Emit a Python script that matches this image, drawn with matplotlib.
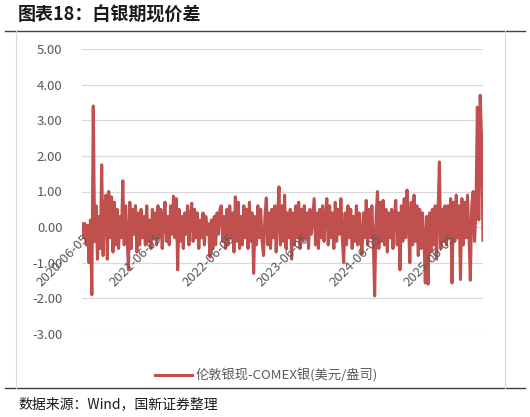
import numpy as np
import pandas as pd
import matplotlib
matplotlib.use('Agg')
import matplotlib.pyplot as plt
import matplotlib.dates as mdates
from matplotlib.lines import Line2D

plt.rcParams['font.family'] = ['Noto Sans CJK SC', 'DejaVu Sans']
plt.rcParams['axes.unicode_minus'] = False

# Spread (USD/oz) at roughly weekly steps
year1 = [0.1, -0.3, 0.1, -0.5, 0.05, -1.0, 0.2, -1.9, 3.4, -0.4,
         0.6, -0.9, 0.3, -0.6, 1.75, -0.8, 0.5, 0.9, -0.9, 1.0,
         -0.3, 0.85, -0.7, 0.7, -0.5, 0.5, -0.6, 0.3, -0.3, 1.3,
         -0.5, 0.6, -0.2, -1.2, 0.7, -0.6, 0.5, -0.2, 0.6, -0.7,
         0.4, -0.5, 0.5, -0.3, 0.3, -0.5, 0.6, -0.4, 0.2, -0.6,
         0.5, -0.3]
year2 = [0.4, -0.5, 0.6, -0.3, 0.5, -0.6, 0.2, 0.7, -0.4, 0.3,
         -0.5, 0.6, -0.2, 0.87, -0.3, 0.8, -1.2, 0.5, -0.4, 0.3,
         -0.6, 0.4, -0.2, 0.6, -0.5, 0.3, 0.67, -0.4, 0.5, -0.3,
         0.4, -0.6, 0.2, -0.3, 0.4, -0.5, 0.3, -0.2, 0.1, -0.84,
         0.2, -0.6, 0.3, -0.5, 0.4, -0.2, 0.5, 0.6, -0.4, 0.3,
         -0.6, 0.5]
year3 = [-0.5, 0.6, -0.3, 0.4, -0.7, 0.85, -0.4, 0.7, -0.6, 0.3,
         -0.5, 0.6, -0.3, 0.5, -0.6, 0.7, -0.4, 0.4, -1.3, 0.3,
         -0.5, 0.6, -0.3, 0.5, -0.4, -0.8, 0.3, 0.82, -0.5, 0.4,
         -0.6, 0.5, -0.3, 0.6, -0.7, 0.3, 1.13, -0.5, 0.6, -0.4,
         0.9, -0.6, 0.4, -0.3, 0.5, -0.9, 0.4, -0.5, 0.6, -0.3,
         0.7, -0.6]
year4 = [0.5, -0.4, 0.6, -0.3, 0.4, -0.6, 0.5, -0.2, 0.3, 0.8,
         -0.5, 0.4, -0.6, 0.5, -0.3, 0.6, -0.4, 0.3, 0.8, -0.5,
         0.6, -0.3, 0.4, -0.6, 0.7, -0.4, 0.5, -0.2, 0.8, -0.3,
         -1.0, 0.4, -0.5, 0.6, -0.3, 0.5, -0.6, 0.3, -0.4, 0.6,
         -0.5, 0.4, -0.3, -0.75, 0.4, -0.3, 0.75, -0.5, 0.5, -0.3,
         0.6, -0.4]
year5 = [-1.93, 0.3, 1.0, -0.6, 0.7, -0.4, 0.75, -0.5, 0.5, -0.7,
         0.4, -0.3, 0.5, -0.6, 0.3, 0.75, -0.5, 0.4, -1.2, 0.6,
         -0.4, 0.8, -0.3, 1.04, 0.2, -1.0, 0.7, -0.5, 0.9, -0.4,
         0.6, -0.8, 0.5, -0.6, 0.4, -0.3, -1.57, 0.3, -1.6, 0.4,
         -0.7, 0.5, -0.5, 0.6, -0.9, 0.3, 1.83, -0.6, 0.5, -0.4,
         0.6, -0.5]
year6 = [0.6, -0.3, 0.8, -1.57, 0.7, -0.4, 0.9, -0.3, 0.6, -1.47,
         0.8, -0.5, 0.7, -0.3, 0.9, -0.2, -1.49, 0.6, 1.0, -0.4,
         0.5, 3.37, 0.2, 3.7, 2.5, -0.37]

spread = year1 + year2 + year3 + year4 + year5 + year6
dates = pd.date_range('2020-06-05', periods=len(spread), freq='7D')

tick_dates = pd.to_datetime(['2020-06-05', '2021-06-05', '2022-06-05',
                             '2023-06-05', '2024-06-05', '2025-06-05'])
yticks = [-3, -2, -1, 0, 1, 2, 3, 4, 5]

RED = '#c0504d'
GRAY = '#595959'

fig = plt.figure(figsize=(5.3, 4.17), dpi=100)

# frame lines around the chart block
fig.add_artist(Line2D([0.01, 0.99], [1 - 31/417, 1 - 31/417], color='#404040', lw=1.0))
fig.add_artist(Line2D([0.01, 0.99], [1 - 388/417, 1 - 388/417], color='#404040', lw=1.0))
fig.add_artist(Line2D([16/530, 16/530], [1 - 388/417, 1 - 31/417], color='#d9d9d9', lw=0.8))
fig.add_artist(Line2D([505/530, 505/530], [1 - 388/417, 1 - 31/417], color='#d9d9d9', lw=0.8))

fig.text(18/530, 1 - 15/417, '图表18：白银期现价差', fontsize=13, fontweight='bold',
         va='center', ha='left', color='#1a1a1a')
fig.text(18/530, 1 - 404/417, '数据来源：Wind，国新证券整理', fontsize=10,
         va='center', ha='left', color='#1a1a1a')

ax = fig.add_axes([82/530, 1 - 334/417, (483 - 82)/530, (334 - 49)/417])
ax.plot(dates, spread, color=RED, lw=2.2, zorder=2,
        label='伦敦银现-COMEX银(美元/盎司)')

ax.set_ylim(-3, 5)
ax.set_yticks(yticks)
ax.yaxis.set_major_formatter(matplotlib.ticker.FormatStrFormatter('%.2f'))
ax.set_xlim(dates[0], dates[-1])
ax.set_xticks(tick_dates)
ax.xaxis.set_major_formatter(mdates.DateFormatter('%Y-%m-%d'))

ax.grid(axis='y', color='#d9d9d9', lw=0.9)
ax.set_axisbelow(True)
ax.xaxis.set_zorder(3)  # date labels sit on top of the line, as in Excel
for side in ['top', 'right', 'left']:
    ax.spines[side].set_visible(False)
ax.spines['bottom'].set_position(('data', 0))
ax.spines['bottom'].set_visible(False)

ax.tick_params(axis='both', length=0, colors=GRAY, labelsize=9.5)
ax.tick_params(axis='y', pad=14)
for lab in ax.get_xticklabels():
    lab.set_rotation(45)
    lab.set_ha('right')
    lab.set_va('top')
    lab.set_rotation_mode('anchor')

ax.legend(loc='center', bbox_to_anchor=(0.46, -0.145), frameon=False,
          fontsize=9.5, labelcolor=GRAY, handlelength=2.8, handletextpad=0.3)

fig.savefig('out.png', dpi=100)
